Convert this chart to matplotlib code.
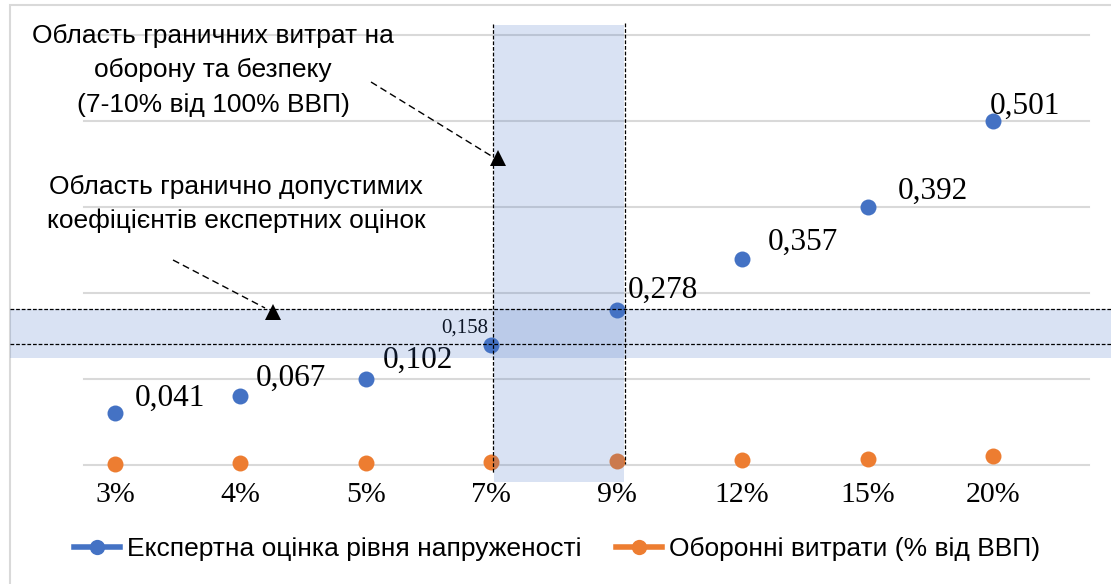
import matplotlib.pyplot as plt
from matplotlib.lines import Line2D
from matplotlib.patches import Rectangle

# categories (share of GDP)
categories = ['3%', '4%', '5%', '7%', '9%', '12%', '15%', '20%']
# plotted values
expert = [1.2, 1.6, 2.0, 2.8, 3.6, 4.8, 6.0, 8.0]
defense = [0.03, 0.04, 0.05, 0.07, 0.09, 0.12, 0.15, 0.20]
# text shown next to the blue points
expert_labels = ['0,041', '0,067', '0,102', '0,158', '0,278', '0,357', '0,392', '0,501']

BLUE = '#4472C4'
ORANGE = '#ED7D31'
GRID = '#D9D9D9'
W, H = 1111, 584
SANS = ['Liberation Sans', 'DejaVu Sans']
SERIF = 'Liberation Serif'


def fx(px):
    return px / W


def fy(py):
    return 1 - py / H


fig = plt.figure(figsize=(W / 100, H / 100), dpi=100)
ax = fig.add_axes([fx(84), fy(465), fx(1089) - fx(84), fy(35) - fy(465)])

x = list(range(len(categories)))
ax.plot(x, expert, 'o', color=BLUE, ms=11.5, mew=0, zorder=3, clip_on=False)
ax.plot(x, defense, 'o', color=ORANGE, ms=11.5, mew=0, zorder=3, clip_on=False)

ax.set_xlim(-0.247, 7.765)
ax.set_ylim(0, 10)
ax.set_yticks(range(0, 11, 2))
ax.set_yticklabels([])
ax.set_xticks(x)
ax.set_xticklabels(categories, fontfamily=SERIF, fontsize=21.5)
ax.tick_params(length=0)
ax.tick_params(axis='x', pad=12)
ax.grid(axis='y', color=GRID, lw=1.5)
for gl in ax.get_ygridlines():
    gl.set_clip_on(False)
for s in ax.spines.values():
    s.set_visible(False)

# data labels: offsets in pixels from the point
offsets = [(20, 15), (15, 18), (17, 19), (-3, 17), (11, 20), (26, 16), (30, 16), (-3, 15)]
for i, (lab, (dx, dy)) in enumerate(zip(expert_labels, offsets)):
    small = lab == '0,158'
    ax.annotate(lab, (x[i], expert[i]), xytext=(dx * 0.72, dy * 0.72),
                textcoords='offset points', fontfamily=SERIF,
                fontsize=15 if small else 22.5,
                ha='right' if small else 'left', va='center', zorder=4)

# shaded areas
band = dict(transform=fig.transFigure, facecolor=BLUE, alpha=0.2, lw=0, zorder=5)
fig.add_artist(Rectangle((fx(494), fy(482)), fx(624) - fx(494), fy(25) - fy(482), **band))
fig.add_artist(Rectangle((fx(10), fy(358)), 1 - fx(10), fy(309) - fy(358), **band))

dash = dict(color='black', lw=0.9, ls=(0, (3, 1.5)), transform=fig.transFigure, zorder=6)
fig.add_artist(Line2D([fx(493), fx(493)], [fy(24), fy(473)], **dash))
fig.add_artist(Line2D([fx(625), fx(625)], [fy(23), fy(464)], **dash))
fig.add_artist(Line2D([fx(10), 1], [fy(309), fy(309)], **dash))
fig.add_artist(Line2D([fx(10), 1], [fy(344), fy(344)], **dash))

# arrows
arrow = dict(color='black', lw=1.0, ls=(0, (5, 3)), transform=fig.transFigure, zorder=6)
fig.add_artist(Line2D([fx(371), fx(493)], [fy(82), fy(157)], **arrow))
fig.add_artist(Line2D([fx(173), fx(265)], [fy(260), fy(308)], **arrow))
head = dict(marker='^', color='black', ms=12, mew=0, ls='none',
            transform=fig.transFigure, zorder=7)
fig.add_artist(Line2D([fx(498)], [fy(158)], **head))
fig.add_artist(Line2D([fx(273)], [fy(312)], **head))

fig.text(fx(213), fy(70), 'Область граничних витрат на\nоборону та безпеку\n(7-10% від 100% ВВП)',
         ha='center', va='center', fontsize=19, family=SANS, linespacing=1.55)
fig.text(fx(236), fy(204), 'Область гранично допустимих\nкоефіцієнтів експертних оцінок',
         ha='center', va='center', fontsize=19, family=SANS, linespacing=1.45)

# chart border
fig.add_artist(Rectangle((fx(10), -0.1), 1.2, fy(5) + 0.1, transform=fig.transFigure,
                         fill=False, edgecolor=GRID, lw=1.5))

handles = [Line2D([], [], color=BLUE, lw=4, marker='o', ms=11, mew=0),
           Line2D([], [], color=ORANGE, lw=4, marker='o', ms=11, mew=0)]
fig.legend(handles, ['Експертна оцінка рівня напруженості', 'Оборонні витрати (% від ВВП)'],
           loc='center', bbox_to_anchor=(fx(557), fy(549)), ncol=2, frameon=False,
           prop={'family': SANS, 'size': 19}, handlelength=1.75, handletextpad=0.25,
           columnspacing=1.3)

fig.savefig('out.png', dpi=100)
